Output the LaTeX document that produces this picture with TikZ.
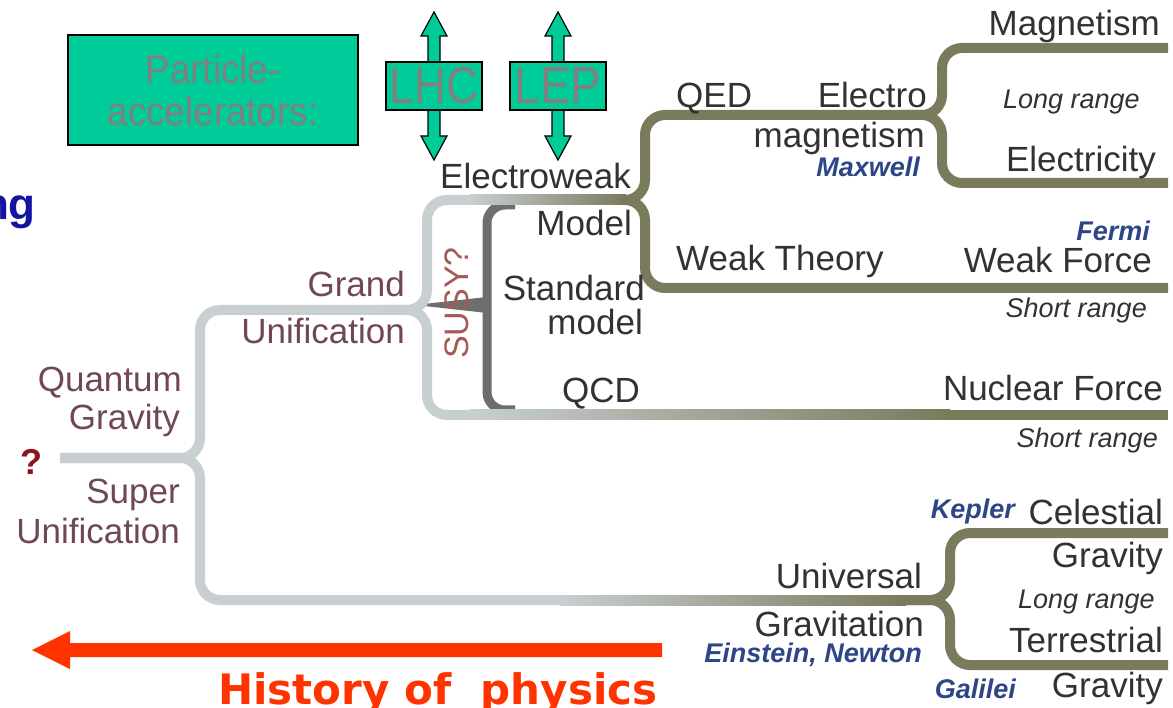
\documentclass[tikz,border=0pt]{standalone}
\usepackage{fontspec}
\setmainfont{Liberation Sans}
\newfontfamily\histfont{DejaVu Sans}
\definecolor{lg}{RGB}{200,207,209}
\definecolor{ol}{RGB}{122,122,92}
\definecolor{dk}{RGB}{110,110,110}
\definecolor{txt}{RGB}{50,50,50}
\definecolor{mar}{RGB}{112,72,82}
\definecolor{susy}{RGB}{165,90,85}
\definecolor{blu}{RGB}{45,70,135}
\definecolor{teal}{RGB}{0,204,153}
\definecolor{redarrow}{RGB}{255,51,0}
\definecolor{qred}{RGB}{140,20,30}
\definecolor{ngblue}{RGB}{20,20,160}
\begin{document}
\begin{tikzpicture}[x=1pt,y=-1pt,
  lab/.style={font=\fontsize{35}{38}\selectfont, text=txt, inner sep=0pt},
  marlab/.style={lab, text=mar},
  rng/.style={font=\fontsize{27}{29}\selectfont\itshape, text=txt, inner sep=0pt},
  who/.style={font=\fontsize{27}{29}\selectfont\bfseries\itshape, text=blu, inner sep=0pt},
  lgline/.style={draw=lg, line width=10pt, rounded corners=20pt},
  olline/.style={draw=ol, line width=10pt, rounded corners=20pt},
  accbox/.style={draw=black, line width=1.2pt, fill=teal},
  acctext/.style={font=\fontsize{52}{56}\selectfont, text=gray, inner sep=0pt}]
\useasboundingbox (0,0) rectangle (1173,708);
\fill[white] (0,0) rectangle (1173,708);
\begin{scope}
\clip (0,0) rectangle (1173,708);
% dark SUSY bracket
\draw[draw=dk, line width=9pt, rounded corners=18pt] (515,205) -- (487,205) -- (487,410) -- (515,410);
\fill[dk] (415,305) -- (487,297) -- (487,313) -- cycle;
% light grey branches
\draw[lgline] (60,458) -- (200,458) -- (200,310) -- (427,310) -- (427,200) -- (472,200);
\draw[lgline] (60,458) -- (200,458) -- (200,600) -- (562,600);
\draw[lgline] (380,310) -- (427,310) -- (427,415) -- (472,415);
% gradient segments
\shade[left color=lg, right color=ol] (470,195) rectangle (626,205);
\shade[left color=lg, right color=ol] (470,410) rectangle (950,420);
\shade[left color=lg, right color=ol] (560,595) rectangle (906,605);
% olive branches
\draw[olline] (620,200) -- (645,200) -- (645,115) -- (942,115) -- (942,48) -- (1168,48);
\draw[olline] (620,200) -- (645,200) -- (645,288) -- (1168,288);
\draw[olline] (900,115) -- (942,115) -- (942,183) -- (1168,183);
\draw[draw=ol, line width=10pt] (945,415) -- (1168,415);
\draw[olline] (900,600) -- (950,600) -- (950,533) -- (1168,533);
\draw[olline] (900,600) -- (950,600) -- (950,665) -- (1168,665);

% accelerator box and arrows
\node[accbox, minimum width=290pt, minimum height=110pt, inner sep=0pt] (acc) at (213,90) {};
\node[font=\fontsize{40}{42}\selectfont, text=gray, align=center, inner sep=0pt] (acct) at (213,90) {\scalebox{0.92}[1]{Particle-}\\\scalebox{0.92}[1]{accelerators:}};
\filldraw[fill=teal, draw=black, line width=1.2pt] (434,12) -- (447,36) -- (440,36) -- (440,136) -- (447,136) -- (434,160) -- (421,136) -- (428,136) -- (428,36) -- (421,36) -- cycle;
\filldraw[fill=teal, draw=black, line width=1.2pt] (558,12) -- (571,36) -- (564,36) -- (564,136) -- (571,136) -- (558,160) -- (545,136) -- (552,136) -- (552,36) -- (545,36) -- cycle;
\node[accbox, minimum width=96pt, minimum height=48pt, inner sep=0pt] (lhcbox) at (434,86) {};
\node[acctext] (lhc) at (434,86) {\scalebox{0.85}[1]{LHC}};
\node[accbox, minimum width=96pt, minimum height=48pt, inner sep=0pt] (lepbox) at (558,86) {};
\node[acctext] (lep) at (558,86) {\scalebox{0.88}[1]{LEP}};

% cropped word
\node[anchor=base east, font=\fontsize{44}{48}\selectfont\bfseries, text=ngblue, inner sep=0pt] (ng) at (36,220) {ng};

% labels
\node[lab, anchor=base east] (magn) at (1160,36) {Magnetism};
\node[rng, anchor=base east] (lr1) at (1140,109) {Long range};
\node[lab, anchor=base west] (qed) at (676,108) {QED};
\node[lab, anchor=base east] (electro) at (927,108) {Electro};
\node[lab, anchor=base east] (magnetism) at (925,148) {magnetism};
\node[who, anchor=base east] (maxwell) at (920,177) {Maxwell};
\node[lab, anchor=base east] (elec) at (1156,172) {Electricity};
\node[lab, anchor=base west] (ew) at (440,189) {Electroweak};
\node[lab, anchor=base east] (model) at (632,236) {Model};
\node[who, anchor=base east] (fermi) at (1150,241) {Fermi};
\node[lab, anchor=base west] (wt) at (676,271) {Weak Theory};
\node[lab, anchor=base east] (wf) at (1152,273) {Weak Force};
\node[rng, anchor=base east] (sr1) at (1147,318) {Short range};
\node[marlab, anchor=base east] (grand) at (405,297) {Grand};
\node[marlab, anchor=base east] (unif1) at (405,344) {Unification};
\node[font=\fontsize{34}{36}\selectfont, text=susy, inner sep=0pt, rotate=90] (susy) at (457,303) {SUSY?};
\node[lab, anchor=base east] (standard) at (645,301) {Standard};
\node[lab, anchor=base east] (smodel) at (643,335) {model};
\node[lab, anchor=base west] (qcd) at (562,403) {QCD};
\node[lab, anchor=base east] (nf) at (1163,401) {Nuclear Force};
\node[rng, anchor=base east] (sr2) at (1158,448) {Short range};
\node[marlab, anchor=base east] (quantum) at (182,392) {Quantum};
\node[marlab, anchor=base east] (qgrav) at (180,430) {Gravity};
\node[font=\fontsize{36}{38}\selectfont\bfseries, text=qred, inner sep=0pt] (q) at (31,462) {?};
\node[marlab, anchor=base east] (super) at (180,503) {Super};
\node[marlab, anchor=base east] (unif2) at (180,543) {Unification};
\node[who, anchor=base east] (kepler) at (1015,518) {Kepler};
\node[lab, anchor=base east] (cel) at (1163,524) {Celestial};
\node[lab, anchor=base east] (cgrav) at (1163,567) {Gravity};
\node[rng, anchor=base east] (lr2) at (1155,608) {Long range};
\node[lab, anchor=base east] (univ) at (922,588) {Universal};
\node[lab, anchor=base east] (gravit) at (924,636) {Gravitation};
\node[who, anchor=base east] (en) at (922,662) {Einstein, Newton};
\node[lab, anchor=base east] (terr) at (1163,652) {Terrestrial};
\node[who, anchor=base east] (galilei) at (1016,698) {Galilei};
\node[lab, anchor=base east] (tgrav) at (1163,697) {Gravity};

% history arrow
\coordinate (hstart) at (662,650);
\coordinate (hend) at (32,650);
\fill[redarrow] (hstart) ++(0,-7) -- (70,643) -- (70,631) -- (hend) -- (70,669) -- (70,657) -- (662,657) -- cycle;
\node[anchor=base west, font=\histfont\bfseries\fontsize{42}{46}\selectfont, text=redarrow, inner sep=0pt] (hist) at (218,704) {History of\ \ physics};
\end{scope}
\end{tikzpicture}
\end{document}
